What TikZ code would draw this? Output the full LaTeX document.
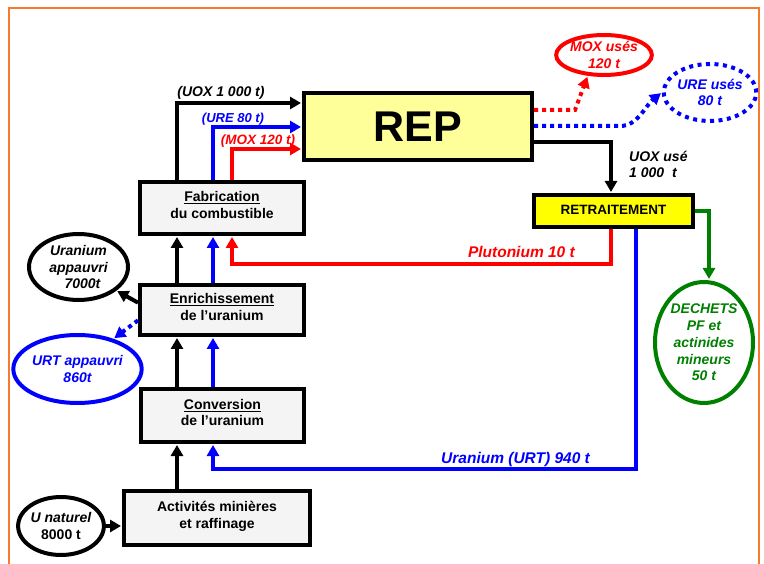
\documentclass[tikz,border=0pt]{standalone}
\usepackage{fontspec}
\setmainfont{Liberation Sans}
\usetikzlibrary{arrows.meta,shapes.geometric,calc}
\definecolor{frameor}{HTML}{F47B30}
\definecolor{boxgray}{HTML}{F4F4F4}
\definecolor{repyel}{HTML}{FFFF99}
\definecolor{retyel}{HTML}{FFFF00}
\definecolor{dgreen}{HTML}{008000}
\definecolor{pblue}{HTML}{0000FF}
\definecolor{pred}{HTML}{FF0000}
\newcommand{\lowstrut}{\rule[-6pt]{0pt}{6pt}}
\begin{document}
\begin{tikzpicture}[x=1pt,y=-1pt,
  procbox/.style={draw=black,line width=4pt,fill=boxgray,align=center,
    font=\fontsize{14}{16.5}\selectfont\bfseries,inner sep=0pt},
  oval/.style={ellipse,draw,line width=4pt,align=center,inner sep=0pt,
    font=\fontsize{14}{16.8}\selectfont\bfseries\itshape},
  flow/.style={line width=4pt,-{Triangle[length=11pt,width=12pt]},shorten >=1pt},
  dotflow/.style={flow,dash pattern=on 4pt off 4pt},
  lbl/.style={font=\fontsize{14}{16.5}\selectfont\bfseries\itshape,inner sep=0pt},
]
\useasboundingbox (0,0) rectangle (764,564);
\draw[frameor,line width=2pt] (9,570) -- (9,8) -- (759,8) -- (759,570);

% boxes
\node[procbox,minimum width=164pt,minimum height=52pt] (fab) at (222,208) {\underline{Fabrication}\\du combustible\lowstrut};
\node[procbox,minimum width=164pt,minimum height=50pt] (enr) at (222,310) {\underline{Enrichissement}\\de l’uranium\lowstrut};
\node[procbox,minimum width=163pt,minimum height=53pt] (conv) at (222.5,415.5) {\underline{Conversion}\\de l’uranium\lowstrut};
\node[procbox,minimum width=186pt,minimum height=54pt] (act) at (217,518) {Activités minières\\et raffinage\lowstrut};
\node[procbox,fill=repyel,minimum width=228pt,minimum height=67pt,
  font=\fontsize{43}{43}\selectfont\bfseries] (rep) at (418,126.5) {\raisebox{-5pt}{REP}};
\node[procbox,fill=retyel,minimum width=159pt,minimum height=32pt,
  font=\fontsize{13.5}{16}\selectfont\bfseries] (ret) at (613.5,211) {\raisebox{2pt}{RETRAITEMENT}};

% ellipses
\node[oval,pred,minimum width=88pt,minimum height=40pt] (mox) at (604,55) {MOX usés\\120 t};
\node[oval,pblue,dash pattern=on 4pt off 4.5pt,minimum width=86pt,minimum height=57pt] (ure) at (710,92.5) {URE usés\\80 t};
\node[oval,dgreen,minimum width=98pt,minimum height=121pt] (dech) at (704,342.5) {DECHETS\\PF et\\actinides\\mineurs\\50 t};
\node[oval,minimum width=99pt,minimum height=66pt] (uapp) at (78.5,267) {Uranium\\appauvri\\\hspace*{8pt}7000t};
\node[oval,pblue,minimum width=120pt,minimum height=68pt] (urt) at (77.5,369) {URT appauvri\\860t};
\node[oval,minimum width=85pt,minimum height=58pt] (unat) at (61,526) {U naturel\\{\upshape 8000 t}};

% lanes
\coordinate (kx) at (177,0);
\coordinate (bx) at (213,0);
\coordinate (rx) at (232,0);
\coordinate (pux) at (611,0);
\coordinate (urx) at (636,0);
\coordinate (gx) at (709,0);
\coordinate (ky) at (0,103);
\coordinate (by) at (0,127);
\coordinate (ry) at (0,149);
\coordinate (uoy) at (0,142);
\coordinate (puy) at (0,264);
\coordinate (ury) at (0,469);
\coordinate (moy) at (0,110);
\coordinate (uey) at (0,126);
\coordinate (mc) at (575,110);
\coordinate (uc) at (620,126);

% left column flows
\draw[flow] (kx |- act.north) -- (kx |- conv.south);
\draw[flow] (kx |- conv.north) -- (kx |- enr.south);
\draw[flow,pblue] (bx |- conv.north) -- (bx |- enr.south);
\draw[flow] (kx |- enr.north) -- (kx |- fab.south);
\draw[flow,pblue] (bx |- enr.north) -- (bx |- fab.south);
\draw[flow] (kx |- fab.north) -- (kx |- ky) -- (rep.west |- ky);
\draw[flow,pblue] (bx |- fab.north) -- (bx |- by) -- (rep.west |- by);
\draw[flow,pred] (rx |- fab.north) -- (rx |- ry) -- (rep.west |- ry);

% right side flows
\draw[flow] (rep.east |- uoy) -- (pux |- uoy) -- (pux |- ret.north);
\draw[flow,pred] (pux |- ret.south) -- (pux |- puy) -- (rx |- puy) -- (rx |- fab.south);
\draw[flow,pblue] (urx |- ret.south) -- (urx |- ury) -- (bx |- ury) -- (bx |- conv.south);
\draw[flow,dgreen] (ret.east) -- (gx |- ret.east) -- (gx |- dech.north);
\draw[dotflow,pred] (rep.east |- moy) -- (mc) -- (mox.232);
\draw[dotflow,pblue] (rep.east |- uey) -- (uc) .. controls (638,126) and (645,106) .. (ure.west);

% side outputs
\draw[flow] (enr.175) -- (uapp.328);
\draw[dotflow,pblue] (enr.187) -- (urt.40);
\draw[flow] (unat.east) -- (act.west |- unat.east);

% labels
\node[lbl,anchor=base] (luox) at (221,97) {(UOX 1 000 t)};
\node[lbl,pblue,anchor=base,font=\fontsize{13}{15}\selectfont\bfseries\itshape] (lure) at (233,123) {(URE 80 t)};
\node[lbl,pred,anchor=base,font=\fontsize{13.5}{15}\selectfont\bfseries\itshape] (lmox) at (258,145) {(MOX 120 t)};
\node[lbl,pred,anchor=base east,font=\fontsize{15.5}{18}\selectfont\bfseries\itshape] (lpu) at (575,258) {Plutonium 10 t};
\node[lbl,pblue,anchor=base west,font=\fontsize{15.5}{18}\selectfont\bfseries\itshape] (lurt) at (441,463) {Uranium (URT) 940 t};
\node[lbl,anchor=base west,align=left] (luse) at (629,178) {UOX usé\\1 000\ \ t};
\end{tikzpicture}
\end{document}
